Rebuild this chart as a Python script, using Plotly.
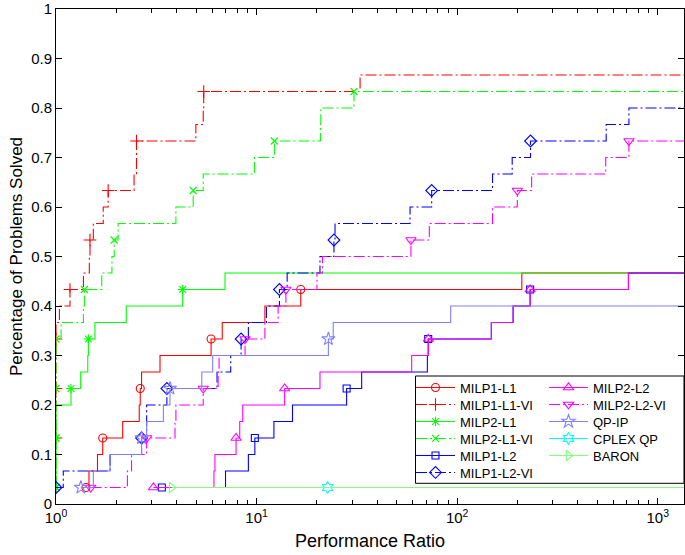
import math
import plotly.graph_objects as go

# ---------------- data (performance ratios of solved problems, sorted) ----------------
N_PROBLEMS = 30
X_MAX = 1351  # right end of the x axis

milp1_l1 = [1.41, 1.46, 1.61, 1.71, 2.15, 2.60, 2.63, 2.67, 3.30, 5.93, 6.74, 11.0, 16.6, 210]
milp1_l1_vi = [1, 1, 1, 1, 1, 1, 1, 1, 1, 1, 1, 1.04, 1.174, 1.37, 1.466, 1.477, 1.535,
               1.72, 1.82, 2.45, 2.52, 2.52, 4.98, 5.42, 5.45, 32.8]
milp2_l1 = [1, 1, 1, 1, 1, 1, 1.188, 1.328, 1.44, 1.45, 1.564, 2.24, 4.28, 6.96]
milp2_l1_vi = [1, 1, 1, 1, 1, 1, 1, 1, 1, 1, 1.06, 1.37, 1.385, 1.69, 1.90, 1.95, 2.04,
               3.96, 4.83, 5.42, 9.75, 12.26, 20.8, 20.9, 30.6]
milp1_l2 = [3.37, 7.0, 9.1, 9.8, 12.2, 15.1, 28.1, 33.4, 71.0, 71.7, 148, 190, 231, 714]
milp1_l2_vi = [1.0, 1.087, 1.86, 2.67, 2.83, 2.83, 3.57, 6.35, 7.43, 8.37, 9.1, 11.2, 13.0,
               14.2, 20.7, 24.3, 24.6, 58.2, 74.6, 150, 188, 232, 553, 718]
milp2_l2 = [3.06, 6.13, 6.2, 7.9, 8.24, 8.53, 13.8, 20.7, 59.3, 71.8, 148, 190, 231, 714]
milp2_l2_vi = [1.49, 2.27, 2.38, 2.83, 3.92, 3.96, 5.42, 6.43, 6.5, 8.76, 11.0, 12.8, 14.0,
               20.0, 21.3, 58.8, 72.6, 150, 199.4, 235, 550, 718]
qp_ip = [1.33, 1.535, 1.86, 2.67, 2.83, 3.43, 3.70, 5.33, 6.04, 22.8, 24.1, 92.8]
cplex_qp = [22.6]
baron = [3.77]

series_names = ["MILP1-L1", "MILP1-L1-VI", "MILP2-L1", "MILP2-L1-VI", "MILP1-L2",
                "MILP1-L2-VI", "MILP2-L2", "MILP2-L2-VI", "QP-IP", "CPLEX QP", "BARON"]
series_data = [milp1_l1, milp1_l1_vi, milp2_l1, milp2_l1_vi, milp1_l2, milp1_l2_vi,
               milp2_l2, milp2_l2_vi, qp_ip, cplex_qp, baron]

x_tick_vals = [1, 10, 100, 1000]
x_tick_text = ["10<sup>0</sup>", "10<sup>1</sup>", "10<sup>2</sup>", "10<sup>3</sup>"]
x_minor_vals = [m * 10 ** d for d in range(0, 4) for m in range(2, 10)]

# ---------------- styles ----------------
DASHDOT = "11px,3px,2px,3px"
LW = 1.1
styles = [
    dict(color="#FF0000", dash="solid", symbol="circle-open", size=8),
    dict(color="#FF0000", dash=DASHDOT, symbol="cross-thin-open", size=9),
    dict(color="#00FF00", dash="solid", symbol="asterisk-open", size=8),
    dict(color="#00FF00", dash=DASHDOT, symbol="x-thin-open", size=7),
    dict(color="#0000FF", dash="solid", symbol="square-open", size=7),
    dict(color="#0000FF", dash=DASHDOT, symbol="diamond-open", size=9),
    dict(color="#FF00FF", dash="solid", symbol="triangle-up-open", size=9),
    dict(color="#FF00FF", dash=DASHDOT, symbol="triangle-down-open", size=9),
    dict(color="#8080FF", dash="solid", symbol="star-open", size=10),
    dict(color="#00FFFF", dash="solid", symbol="hexagram-open", size=9),
    dict(color="#80FF80", dash="solid", symbol="triangle-right-open", size=9),
]

fig = go.Figure()
for name, data, st in zip(series_names, series_data, styles):
    ys = [(i + 1) / N_PROBLEMS for i in range(len(data))]
    fig.add_trace(go.Scatter(
        x=data + [X_MAX], y=ys + [ys[-1]], mode="lines",
        line=dict(color=st["color"], width=LW, dash=st["dash"], shape="hv"),
        showlegend=False, hoverinfo="skip"))
    idx = list(range(0, len(data), 3))
    fig.add_trace(go.Scatter(
        x=[data[i] for i in idx], y=[ys[i] for i in idx], mode="markers",
        marker=dict(symbol=st["symbol"], size=st["size"], color=st["color"],
                    line=dict(color=st["color"], width=LW)),
        showlegend=False, hoverinfo="skip"))

# ---------------- legend: one small legend per entry, two columns ----------------
FONT = "Liberation Sans, Arial, Helvetica, sans-serif"
PLOT_L, PLOT_W, PLOT_B, PLOT_H = 56, 628, 504, 495
legend_layout = {}
for k, (name, st) in enumerate(zip(series_names, styles)):
    key = "legend" if k == 0 else f"legend{k + 1}"
    col, row = (0, k) if k < 6 else (1, k - 6)
    px_left = 411 if col == 0 else 544
    py_mid = 387.5 + 17 * row
    legend_layout[key] = dict(
        x=(px_left - PLOT_L) / PLOT_W, y=(PLOT_B - py_mid) / PLOT_H,
        xanchor="left", yanchor="middle", bgcolor="rgba(0,0,0,0)", borderwidth=0,
        itemwidth=39, font=dict(family=FONT, size=13, color="black"))
    fig.add_trace(go.Scatter(
        x=[None], y=[None], mode="lines+markers", name=name, legend=key,
        line=dict(color=st["color"], width=LW, dash=st["dash"]),
        marker=dict(symbol=st["symbol"], size=st["size"], color=st["color"],
                    line=dict(color=st["color"], width=LW))))

axis_common = dict(showline=True, linecolor="black", linewidth=1, mirror="ticks",
                   ticks="inside", ticklen=6, tickcolor="black", tickwidth=1,
                   showgrid=False, zeroline=False, automargin=False,
                   tickfont=dict(family=FONT, size=15, color="black"))

fig.update_layout(
    width=685, height=555,
    margin=dict(l=56, r=1, t=9, b=51),
    paper_bgcolor="white", plot_bgcolor="white",
    font=dict(family=FONT, color="black"),
    xaxis=dict(type="log", range=[0, math.log10(X_MAX)],
               tickmode="array", tickvals=x_tick_vals, ticktext=x_tick_text,
               minor=dict(tickmode="array", tickvals=x_minor_vals, ticks="inside",
                          ticklen=4, tickcolor="black", showgrid=False),
               title=dict(text="Performance Ratio", font=dict(family=FONT, size=18),
                          standoff=9),
               **axis_common),
    yaxis=dict(range=[0, 1], tick0=0, dtick=0.1,
               title=dict(text="Percentage of Problems Solved",
                          font=dict(family=FONT, size=17), standoff=4),
               **axis_common),
    shapes=[dict(type="rect", xref="paper", yref="paper",
                 x0=(415.5 - PLOT_L) / PLOT_W, x1=1.0,
                 y0=(PLOT_B - 483.3) / PLOT_H, y1=(PLOT_B - 376) / PLOT_H,
                 fillcolor="white", line=dict(color="black", width=1), layer="above")],
    **legend_layout,
)

fig.write_html(
    "out.html",
    config={"displayModeBar": False, "staticPlot": True},
    post_script="document.body.style.margin='0';document.body.style.overflow='hidden';",
)
